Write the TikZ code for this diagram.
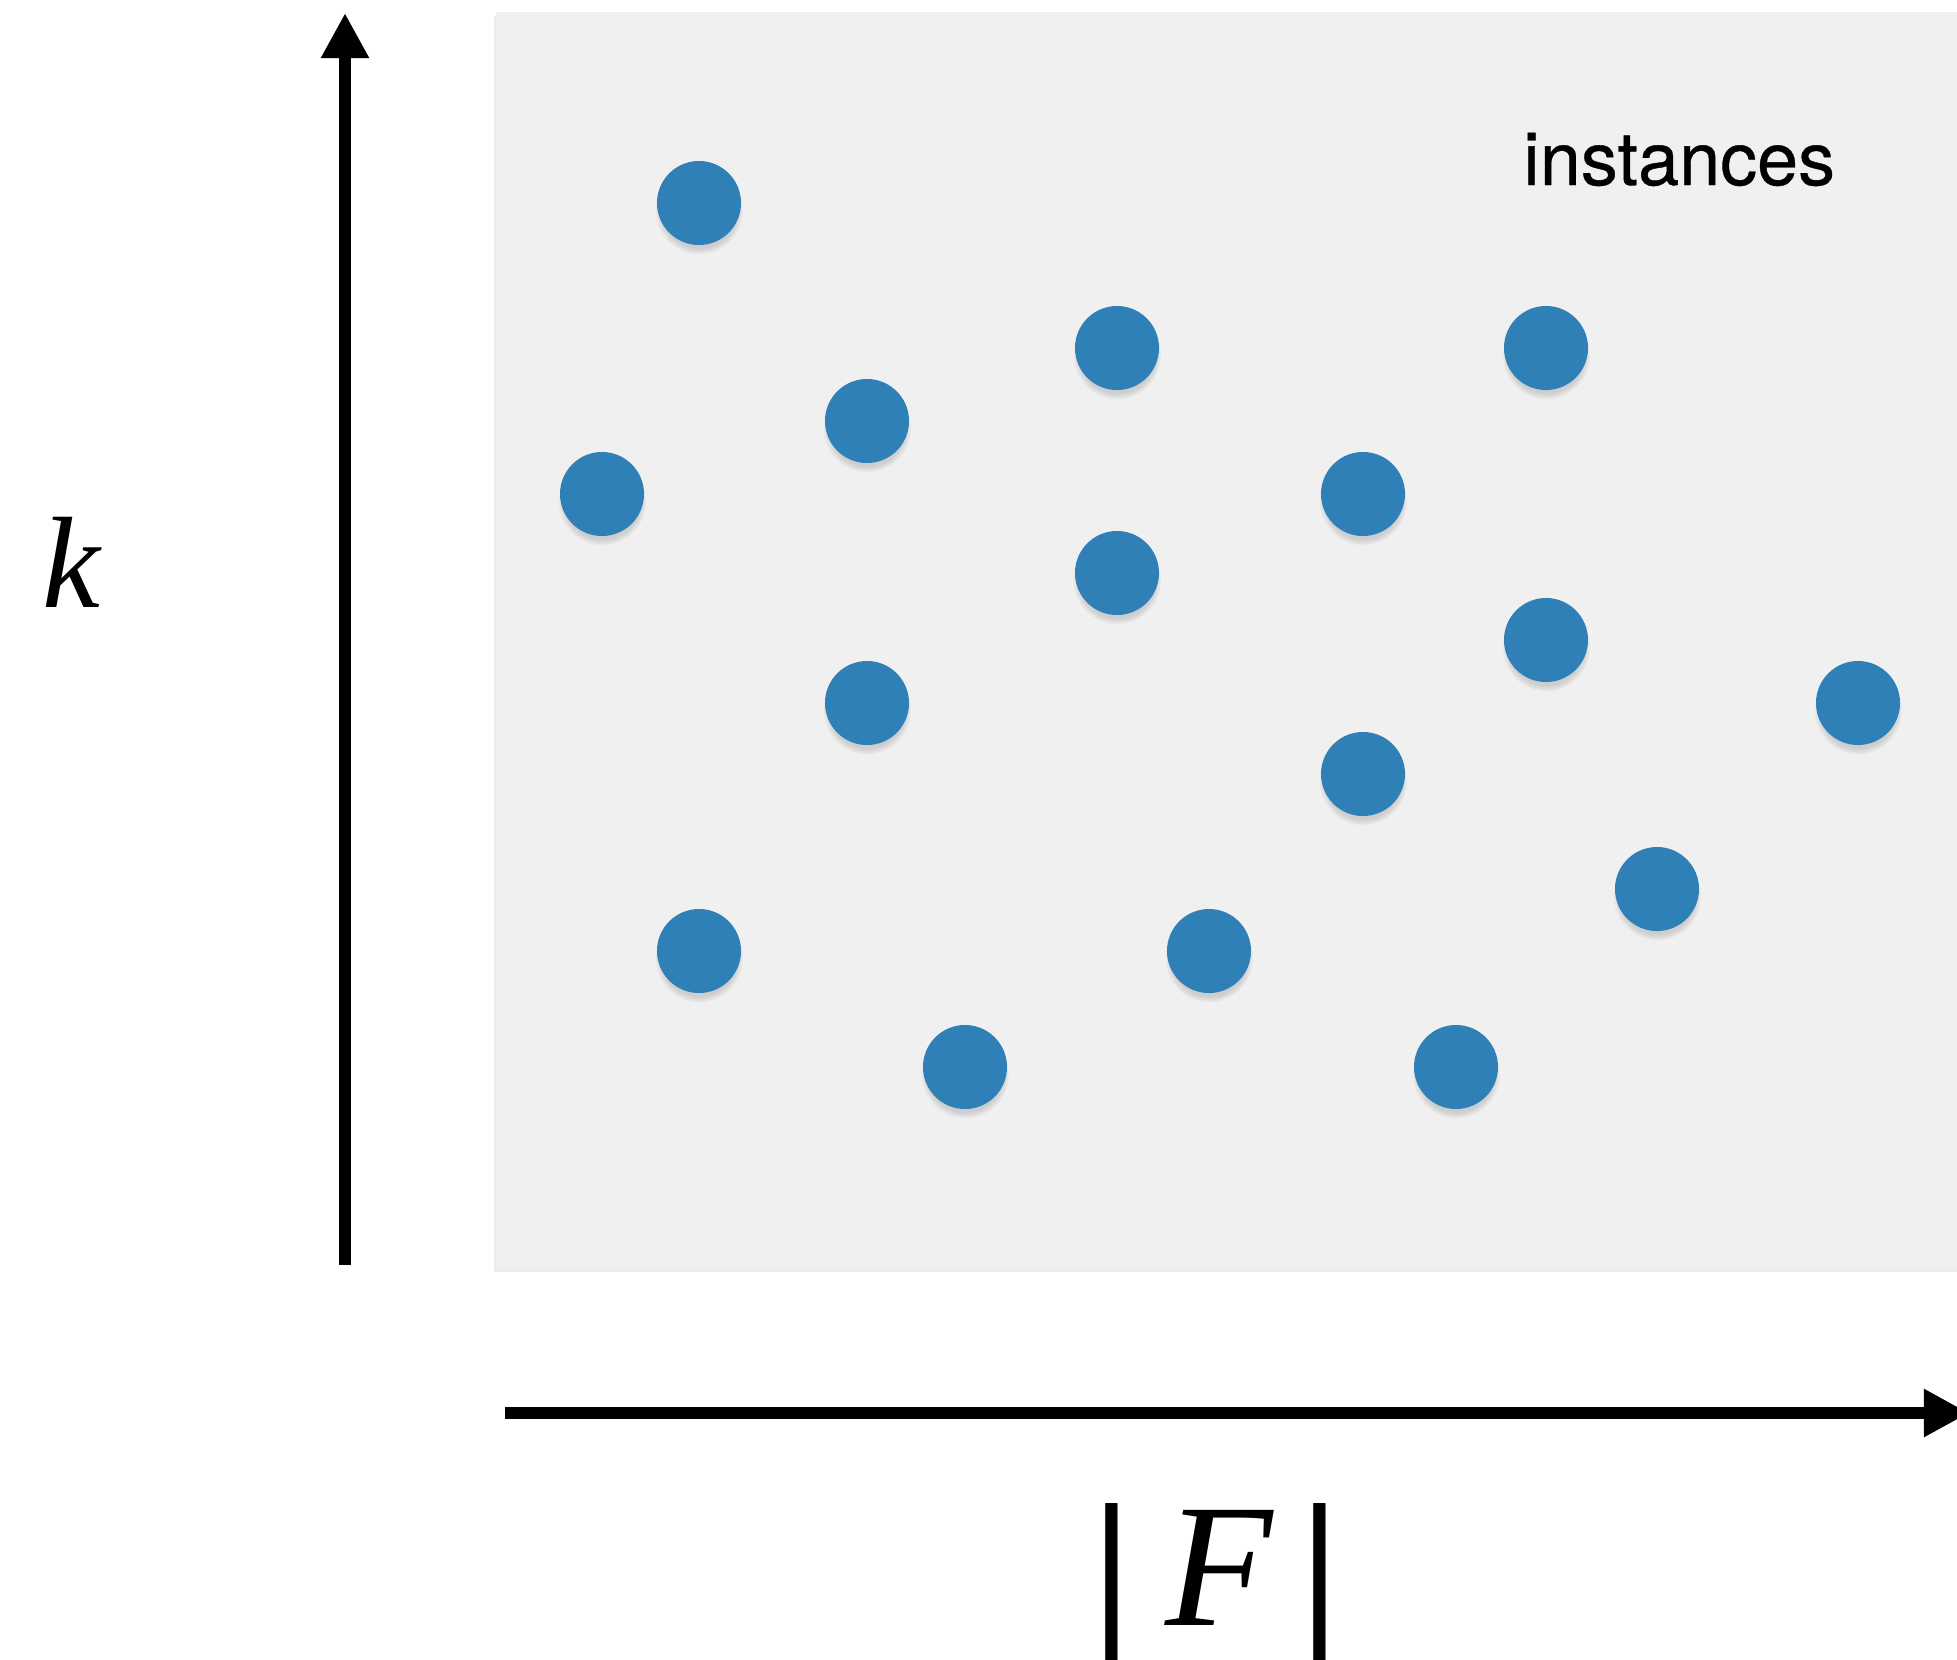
\documentclass[tikz,border=0pt]{standalone}
\usepackage{fontspec}
\newfontfamily\heros[FakeBold=0.5]{TeX Gyre Heros}
\newfontfamily\termes{Liberation Serif}
\usetikzlibrary{arrows.meta, shadows}
\definecolor{dotblue}{RGB}{47,128,182}
\definecolor{planegray}{RGB}{240,240,240}

\begin{document}
\begin{tikzpicture}[x=0.01cm, y=-0.01cm,
    axis/.style={line width=3.2pt, -{Triangle[length=0.45cm, width=0.45cm]}},
    dot/.style={circle, fill=dotblue, minimum size=0.84cm, inner sep=0pt,
        circular drop shadow={shadow xshift=0pt, shadow yshift=-2pt, shadow scale=1.05, opacity=0.3}}]
    \useasboundingbox (0,0) rectangle (1957,1659);

    % instance plane
    \fill[planegray, drop shadow={shadow xshift=-0.6pt, shadow yshift=-1.2pt, opacity=0.15}]
        (496,12) rectangle (1975,1268);
    \node[font=\heros\fontsize{21}{25}\selectfont, anchor=base west] (inst) at (1511,185) {instances};

    \foreach \x/\y [count=\i] in {699/203, 1117/348, 1546/348, 867/421, 602/494, 1363/494,
        1117/573, 1546/640, 867/703, 1858/703, 1363/774, 1657/889, 699/951, 1209/951,
        965/1067, 1456/1067}
        \node[dot] (p\i) at (\x,\y) {};

    % axes
    \coordinate (kbot) at (345,1265);
    \coordinate (ktop) at (345,13);
    \coordinate (fleft) at (505,1413);
    \coordinate (fright) at (1969,1413);
    \draw[axis] (kbot) -- (ktop);
    \draw[axis] (fleft) -- (fright);

    \node[font=\termes\itshape\fontsize{37}{44}\selectfont, anchor=base] (klab) at (71,607) {k};
    \node[font=\termes\fontsize{50}{60}\selectfont, anchor=base] (flab) at (1216,1625)
        {{\bfseries|}\hspace{0.19em}\textit{F}\hspace{0.15em}{\bfseries|}};
\end{tikzpicture}
\end{document}
